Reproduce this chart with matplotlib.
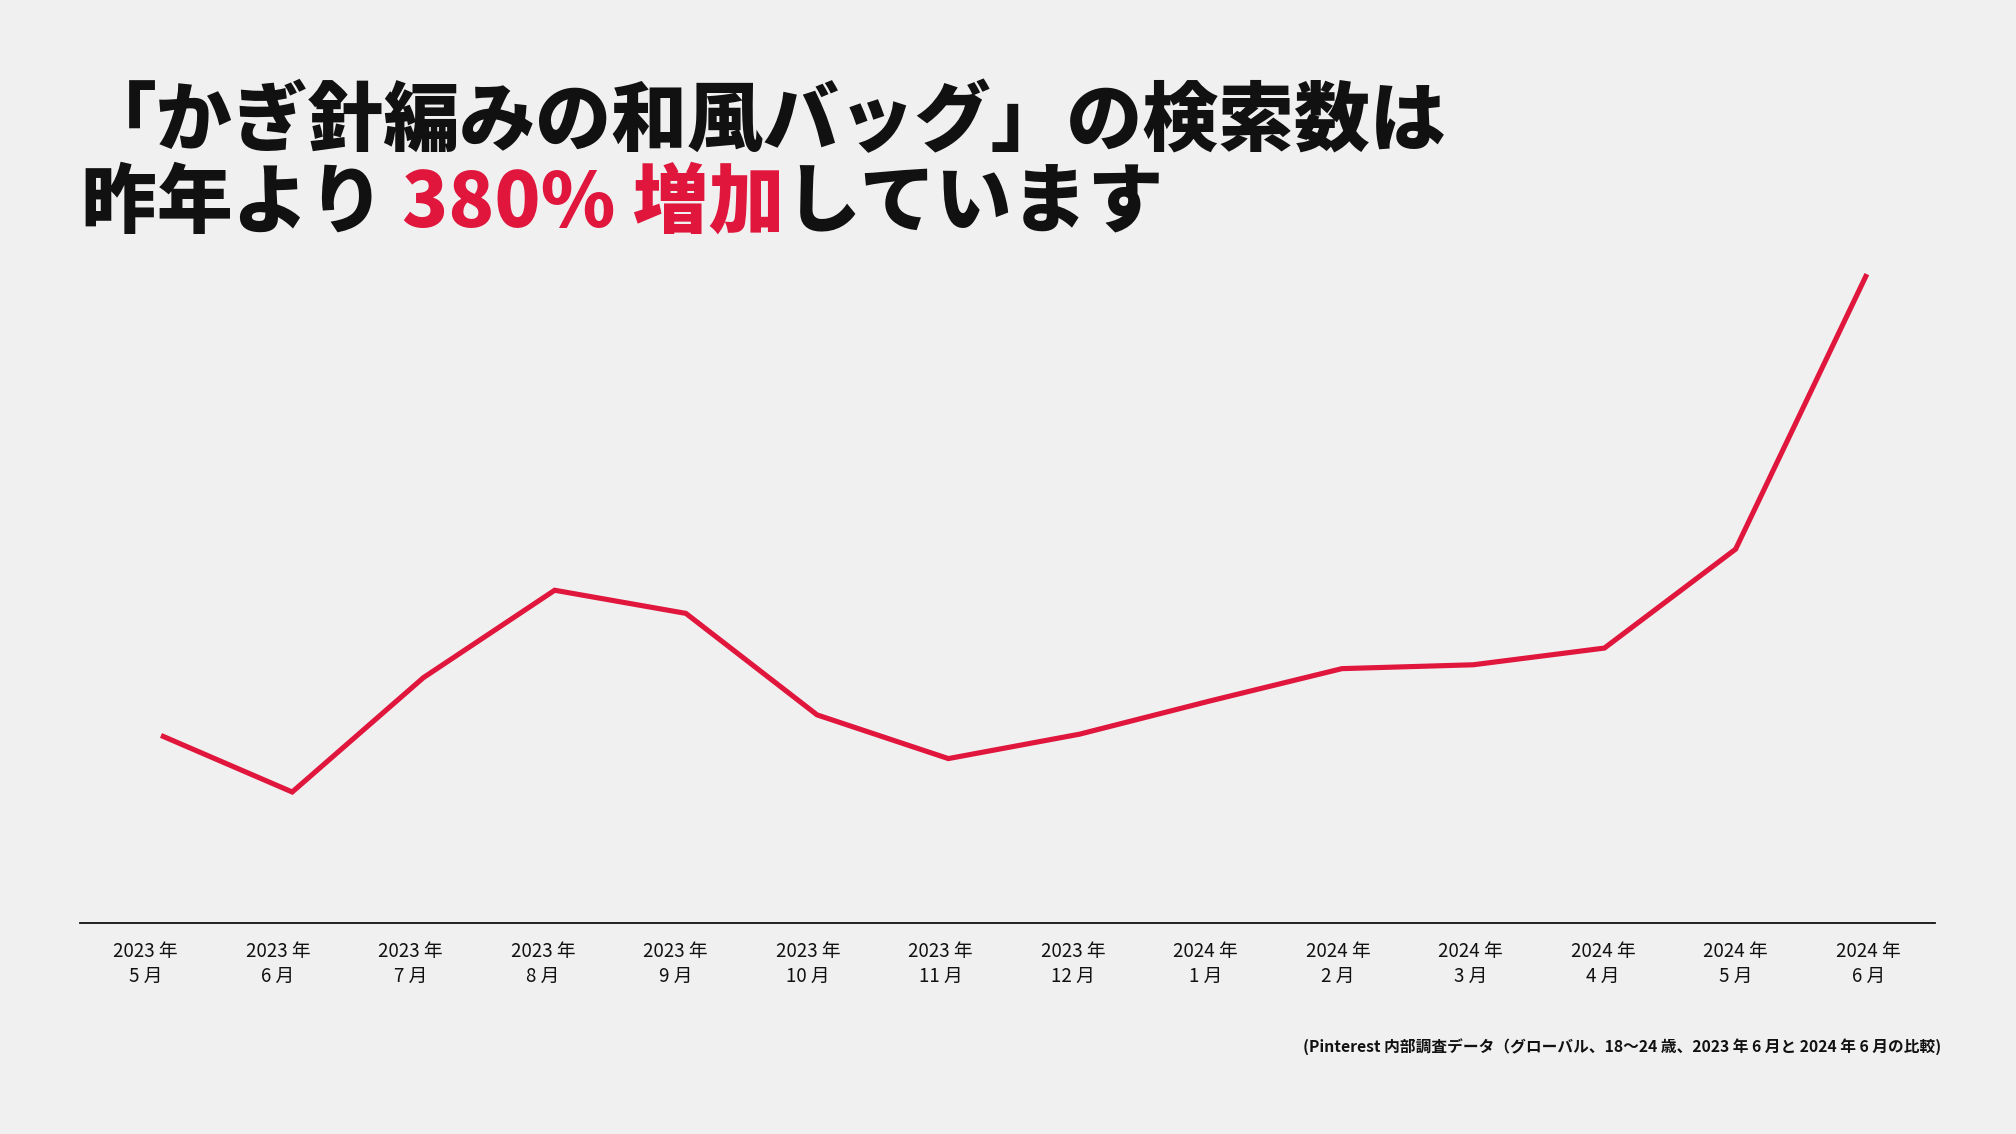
import matplotlib
matplotlib.use("Agg")
import matplotlib.pyplot as plt
import numpy as np

plt.rcParams['font.family'] = ['Noto Sans CJK JP', 'DejaVu Sans']

# Data (relative search volume, arbitrary units)
years = ["2023", "2023", "2023", "2023", "2023", "2023", "2023", "2023",
         "2024", "2024", "2024", "2024", "2024", "2024"]
months = ["5", "6", "7", "8", "9", "10", "11", "12", "1", "2", "3", "4", "5", "6"]
values = [146, 102, 191, 259, 241, 162, 128, 147, 173, 198, 201, 214, 291, 505]

BG = "#F0F0F0"
RED = "#E0163D"
DARK = "#111111"

fig = plt.figure(figsize=(20.16, 11.34), dpi=100, facecolor=BG)
ax = fig.add_axes([0.0397, 0.186, 0.9201, 0.587], facecolor=BG)

x = np.arange(len(values))
ax.plot(x, values, color=RED, lw=3.7, solid_joinstyle='miter', solid_capstyle='butt')

ax.set_xlim(-0.617, 13.519)
ax.set_ylim(0, 518)
for s in ['top', 'right', 'left']:
    ax.spines[s].set_visible(False)
ax.spines['bottom'].set_color(DARK)
ax.spines['bottom'].set_linewidth(1.3)
ax.set_yticks([])

tick_pos = x * 1.0099 - 0.118
labels = [f"{y} 年\n{m} 月" for y, m in zip(years, months)]
ax.set_xticks(tick_pos)
ax.set_xticklabels(labels, fontsize=13.5, color=DARK, linespacing=1.25)
ax.tick_params(axis='x', length=0, pad=13)

# Title
TW = 900
FS = 54.6
fig.text(0.0402, 0.872, "「かぎ針編みの和風バッグ」の検索数は", fontsize=FS,
         fontweight=TW, color=DARK, ha='left', va='baseline')

parts = [("昨年より ", DARK), ("380% 増加", RED), ("しています", DARK)]
fig.canvas.draw()
renderer = fig.canvas.get_renderer()
xpos = 0.0402 * fig.bbox.width
ypos = 0.800
for txt, col in parts:
    t = fig.text(xpos / fig.bbox.width, ypos, txt, fontsize=FS, fontweight=TW,
                 color=col, ha='left', va='baseline')
    bb = t.get_window_extent(renderer=renderer)
    xpos = bb.x1

fig.text(0.963, 0.0775,
         "(Pinterest 内部調査データ（グローバル、18〜24 歳、2023 年 6 月と 2024 年 6 月の比較)",
         fontsize=11.3, fontweight='bold', color=DARK, ha='right', va='center')

fig.savefig("out.png", dpi=100, facecolor=BG)
